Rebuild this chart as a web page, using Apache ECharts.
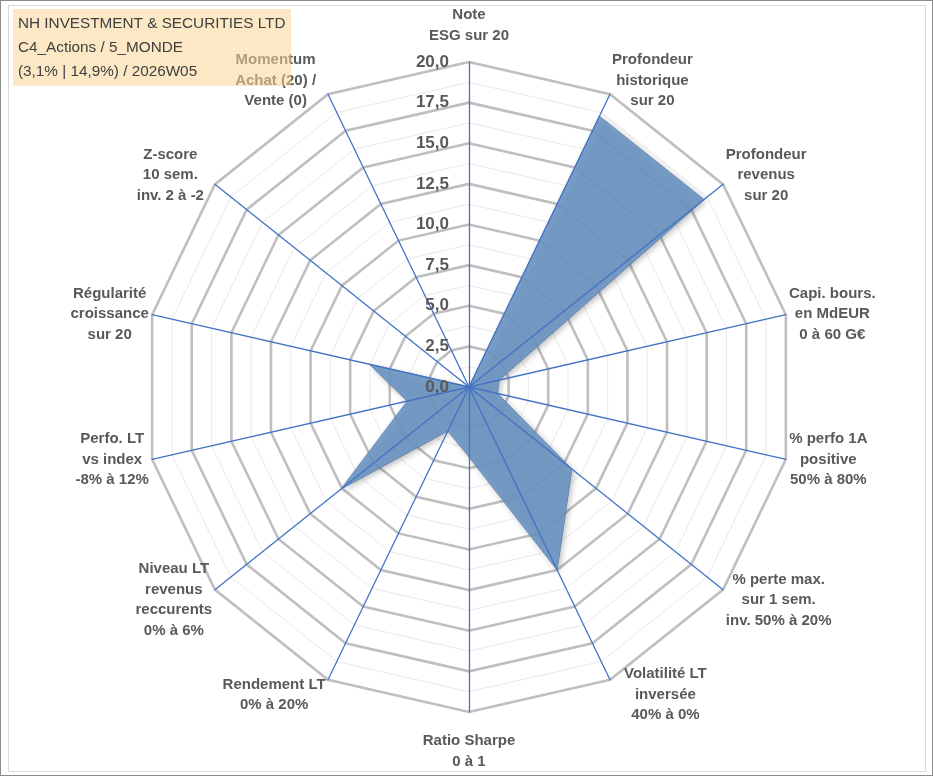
<!DOCTYPE html>
<html>
<head>
<meta charset="utf-8">
<script src="https://cdn.jsdelivr.net/npm/echarts@6/dist/echarts.min.js"></script>
<style>
  html, body { margin: 0; padding: 0; background: #fff; }
  #radar_chart { width: 933px; height: 776px; box-sizing: border-box; border: 1px solid #8c8c8c; }
</style>
</head>
<body>
<div id="radar_chart"></div>
<script>
// axes in the order of the Excel chart: clockwise, starting at the top
const indicatorNames = [
  'Note\nESG sur 20',
  'Profondeur\nhistorique\nsur 20',
  'Profondeur\nrevenus\nsur 20',
  'Capi. bours.\nen MdEUR\n0 à 60 G€',
  '% perfo 1A\npositive\n50% à 80%',
  '% perte max.\nsur 1 sem.\ninv. 50% à 20%',
  'Volatilité LT\ninversée\n40% à 0%',
  'Ratio Sharpe\n0 à 1',
  'Rendement LT\n0% à 20%',
  'Niveau LT\nrevenus\nreccurents\n0% à 6%',
  'Perfo. LT\nvs index\n-8% à 12%',
  'Régularité\ncroissance\nsur 20',
  'Z-score\n10 sem.\ninv. 2 à -2',
  'Momentum\nAchat (20) /\nVente (0)'
];
const scoreValues = [0, 18.5, 18.5, 1.9, 1.8, 8.1, 12.5, 4.3, 3.0, 10.1, 3.9, 6.3, 0, 0];

const scaleMin = 0;
const scaleMax = 20;
const scaleStep = 2.5;

const titleLines = [
  'NH INVESTMENT & SECURITIES LTD',
  'C4_Actions / 5_MONDE',
  '(3,1% | 14,9%) / 2026W05'
];

const FONT = '"Liberation Sans", Arial, sans-serif';
const CENTER = [468, 386];
const RADIUS = 325;
// Excel pushes some names further out: blank spacer line (px) after / before the text
const spacerAfter = { 0: 14, 1: 24, 2: 16, 12: 16, 13: 24 };
const spacerBefore = { 5: 18, 6: 26, 7: 17, 8: 26, 9: 18 };
// extra box width (px) to nudge a few names sideways
const extraWidth = { 6: 24, 12: 16, 13: 20 };

// echarts lays radar indicators counter-clockwise -> keep the top one, reverse the rest
const libOrder = [0].concat(indicatorNames.map((n, i) => i).slice(1).reverse());

// one rich style per label so multi-line names are centred like in Excel
const measureCtx = document.createElement('canvas').getContext('2d');
measureCtx.font = 'bold 15px ' + FONT;
const nameRich = {};
indicatorNames.forEach((name, i) => {
  const w = Math.max.apply(null, name.split('\n').map(s => measureCtx.measureText(s).width));
  const boxW = Math.ceil(w) + 2 + (extraWidth[i] || 0);
  nameRich['n' + i] = {
    width: boxW, align: 'center',
    fontFamily: FONT, fontSize: 15, fontWeight: 'bold', color: '#595959', lineHeight: 20.5
  };
  if (spacerAfter[i]) nameRich['a' + i] = { width: boxW, fontSize: 1, lineHeight: spacerAfter[i] };
  if (spacerBefore[i]) nameRich['b' + i] = { width: boxW, fontSize: 1, lineHeight: spacerBefore[i] };
});

const indicators = libOrder.map(i => ({ name: indicatorNames[i], min: scaleMin, max: scaleMax }));
const nSplit = Math.round((scaleMax - scaleMin) / scaleStep);

const baseRadar = {
  center: CENTER, radius: RADIUS, startAngle: 90, shape: 'polygon',
  indicator: indicators,
  splitArea: { show: false },
  axisTick: { show: false },
  axisLabel: { show: false }
};

const myChart = echarts.init(document.getElementById('radar_chart'));

const option = {
  backgroundColor: '#ffffff',
  animation: false,
  radar: [
    // minor rings
    Object.assign({}, baseRadar, {
      splitNumber: nSplit * 2,
      axisName: { show: false },
      axisLine: { show: false },
      splitLine: { lineStyle: { color: '#e9e9e9', width: 1 } },
      z: 0
    }),
    // major rings + axis names
    Object.assign({}, baseRadar, {
      splitNumber: nSplit,
      nameGap: 2,
      axisName: {
        formatter: (name) => {
          const idx = indicatorNames.indexOf(name);
          let lines = name.split('\n').map(s => '{n' + idx + '|' + s + '}');
          if (spacerAfter[idx]) lines.push('{a' + idx + '|\u00a0}');
          if (spacerBefore[idx]) lines.unshift('{b' + idx + '|\u00a0}');
          return lines.join('\n');
        },
        rich: nameRich
      },
      axisLine: { show: false },
      splitLine: { lineStyle: { color: '#bfbfbf', width: 2.6 } },
      z: 0
    }),
    // blue spokes on top of the filled area
    Object.assign({}, baseRadar, {
      splitNumber: nSplit,
      axisName: { show: false },
      axisLine: { lineStyle: { color: '#4472c4', width: 1.3 } },
      splitLine: { show: false },
      z: 5
    })
  ],
  polar: { center: CENTER, radius: RADIUS },
  angleAxis: { show: false, startAngle: 90, min: 0, max: 360 },
  radiusAxis: {
    min: scaleMin, max: scaleMax, interval: scaleStep, z: 10,
    axisLine: { show: false }, axisTick: { show: false }, splitLine: { show: false },
    axisLabel: {
      margin: 20,
      fontFamily: FONT, fontSize: 17, fontWeight: 'bold', color: '#595959',
      formatter: v => v.toFixed(1).replace('.', ',')
    }
  },
  series: [{
    type: 'radar',
    radarIndex: 1,
    symbol: 'none',
    z: 2,
    lineStyle: { color: '#5a82bd', width: 0.8 },
    areaStyle: {
      color: '#6a93c1', opacity: 0.9,
      shadowBlur: 6, shadowColor: 'rgba(0,0,0,0.3)', shadowOffsetX: 2, shadowOffsetY: 2
    },
    data: [{ name: 'Score', value: libOrder.map(i => scoreValues[i]) }]
  }],
  graphic: [
    {
      type: 'rect', left: 5, top: 2, z: -1, silent: true,
      shape: { width: 917, height: 766 },
      style: { fill: 'none', stroke: '#d9d9d9', lineWidth: 1 }
    },
    {
      type: 'rect', left: 12, top: 8, z: 100, silent: true,
      shape: { width: 278, height: 77 },
      style: { fill: 'rgba(250, 214, 150, 0.55)' }
    },
    {
      type: 'text', left: 17, top: 11, z: 101, silent: true,
      style: {
        text: titleLines.join('\n'),
        font: '15.3px ' + FONT, fill: '#404040', lineHeight: 24
      }
    }
  ]
};

myChart.setOption(option);
</script>
</body>
</html>
